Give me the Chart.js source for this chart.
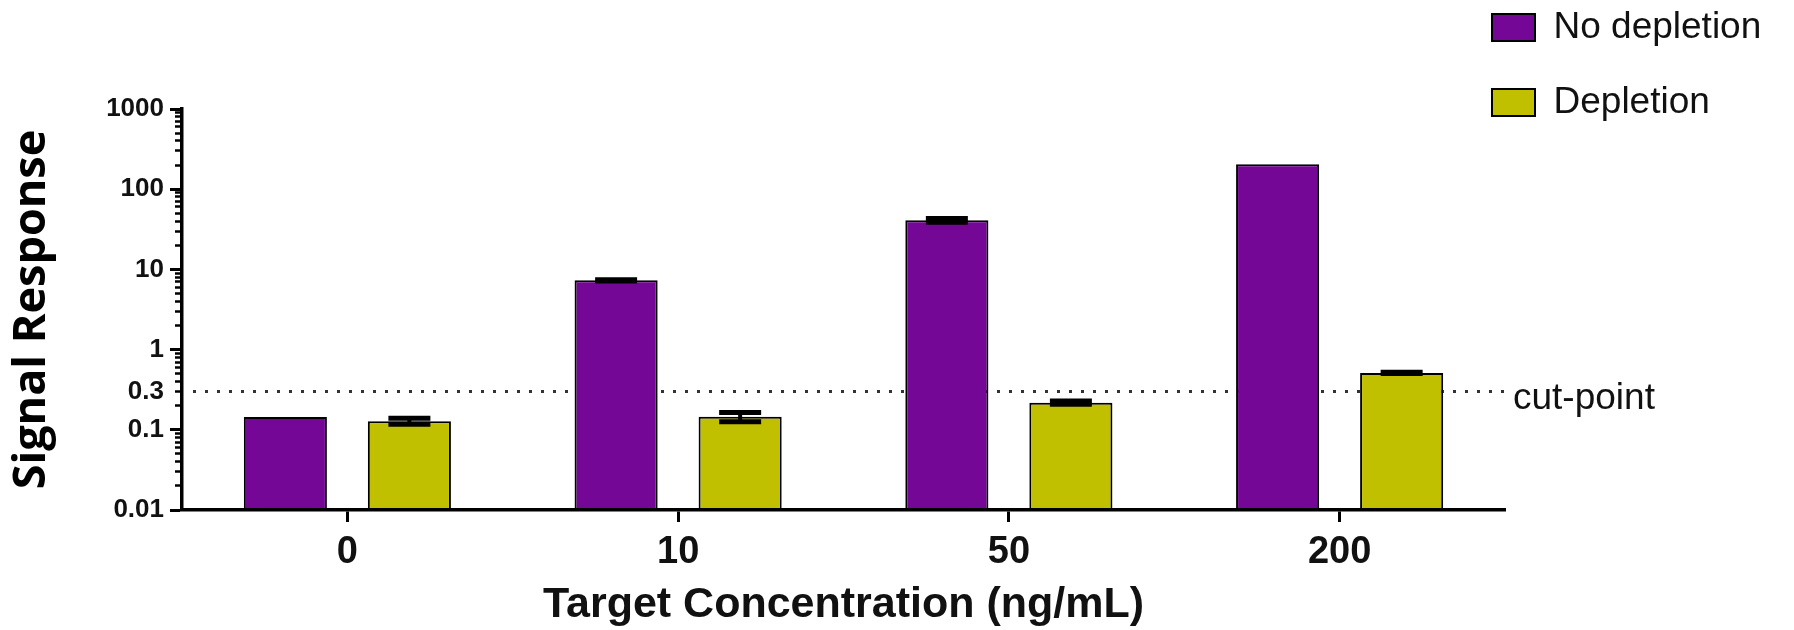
<!DOCTYPE html>
<html>
<head>
<meta charset="utf-8">
<title>Signal Response</title>
<script src="https://cdn.jsdelivr.net/npm/chart.js@4.4.1/dist/chart.umd.min.js"></script>
<style>
    html, body { margin: 0; padding: 0; background: #fff; }
    #chart { display: block; }
</style>
</head>
<body>
<canvas id="chart" width="1794" height="630"></canvas>
<script>
// Data
const concentrations = ['0', '10', '50', '200'];
const noDepletion = [0.144, 7.3, 41, 205];
const noDepletionErr = [0, 0.12, 2.2, 0];
const depletion = [0.128, 0.145, 0.218, 0.512];
const depletionErr = [0.011, 0.019, 0.01, 0.01];
const cutPoint = 0.3;
const yTickLabels = [0.01, 0.1, 0.3, 1, 10, 100, 1000];

const purple = '#740796';
const olive = '#c0c000';

// minor tick marks 2..9 in every decade
const minorTicks = [];
for (let e = -2; e < 3; e++) {
    for (let k = 2; k <= 9; k++) {
        minorTicks.push(+(k * Math.pow(10, e)).toPrecision(2));
    }
}

// error bars drawn on top of each bar
const errorBars = {
    id: 'errorBars',
    afterDatasetsDraw(chart) {
        const ctx = chart.ctx;
        const y = chart.scales.y;
        const errs = [noDepletionErr, depletionErr];
        chart.data.datasets.forEach((ds, d) => {
            const meta = chart.getDatasetMeta(d);
            meta.data.forEach((bar, i) => {
                const e = errs[d][i];
                if (!e) return;
                const v = ds.data[i];
                const hi = y.getPixelForValue(v + e);
                const lo = y.getPixelForValue(v - e);
                ctx.save();
                ctx.strokeStyle = '#000';
                ctx.lineWidth = 5;
                ctx.beginPath();
                ctx.moveTo(bar.x - 21, hi);
                ctx.lineTo(bar.x + 21, hi);
                ctx.moveTo(bar.x - 21, lo);
                ctx.lineTo(bar.x + 21, lo);
                ctx.stroke();
                ctx.lineWidth = 4;
                ctx.beginPath();
                ctx.moveTo(bar.x, hi);
                ctx.lineTo(bar.x, lo);
                ctx.stroke();
                ctx.restore();
            });
        });
    }
};

// dotted cut-point line and its label
const cutLine = {
    id: 'cutLine',
    beforeDatasetsDraw(chart) {
        const ctx = chart.ctx;
        const area = chart.chartArea;
        const yPix = chart.scales.y.getPixelForValue(cutPoint);
        ctx.save();
        ctx.strokeStyle = '#333';
        ctx.lineWidth = 3;
        ctx.setLineDash([3, 9]);
        ctx.beginPath();
        ctx.moveTo(area.left + 11, yPix);
        ctx.lineTo(area.right, yPix);
        ctx.stroke();
        ctx.restore();
    },
    afterDraw(chart) {
        const ctx = chart.ctx;
        const area = chart.chartArea;
        const yPix = chart.scales.y.getPixelForValue(cutPoint);
        ctx.save();
        ctx.fillStyle = '#111';
        ctx.font = '37px "Liberation Sans", Arial, sans-serif';
        ctx.textBaseline = 'alphabetic';
        ctx.fillText('cut-point', area.right + 8, yPix + 17);
        ctx.restore();
    }
};

// legend in the top right corner, minor ticks against the axis line
const layoutFix = {
    id: 'layoutFix',
    afterLayout(chart) {
        const lg = chart.legend;
        lg.left = 1454;
        lg.top = -29;
        lg.right = 1794;
        lg.bottom = 200;
        lg.width = lg.right - lg.left;
        lg.height = lg.bottom - lg.top;

        const m = chart.scales.yMinor;
        m.left = chart.chartArea.left;
        m.right = chart.chartArea.left;
        m.width = 0;
    }
};

const ctx = document.getElementById('chart').getContext('2d');
const chart = new Chart(ctx, {
    type: 'bar',
    data: {
        labels: concentrations,
        datasets: [{
            label: 'No depletion',
            data: noDepletion,
            backgroundColor: purple,
            borderColor: '#000',
            borderWidth: 2,
            borderSkipped: false
        }, {
            label: 'Depletion',
            data: depletion,
            backgroundColor: olive,
            borderColor: '#000',
            borderWidth: 2,
            borderSkipped: false
        }]
    },
    options: {
        responsive: false,
        animation: false,
        devicePixelRatio: 1,
        categoryPercentage: 0.75,
        barPercentage: 0.67,
        layout: {
            padding: { top: 109, right: 289, bottom: 0, left: 0 }
        },
        plugins: {
            tooltip: { enabled: false },
            legend: {
                position: 'chartArea',
                align: 'start',
                labels: {
                    boxWidth: 43,
                    boxHeight: 27,
                    padding: 38,
                    color: '#111',
                    font: { family: '"Liberation Sans", Arial, sans-serif', size: 37 }
                }
            }
        },
        scales: {
            x: {
                type: 'category',
                afterFit: s => { s.height = 120; },
                border: { display: true, color: '#000', width: 3.5 },
                grid: {
                    offset: false,
                    drawOnChartArea: false,
                    drawTicks: true,
                    tickLength: 12,
                    tickWidth: 3,
                    tickColor: '#000'
                },
                ticks: {
                    color: '#111',
                    padding: 8,
                    maxRotation: 0,
                    font: { family: '"Liberation Sans", Arial, sans-serif', size: 38, weight: 'bold' }
                },
                title: {
                    display: true,
                    text: 'Target Concentration (ng/mL)',
                    color: '#111',
                    padding: { top: 0, bottom: 3 },
                    font: { family: '"Liberation Sans", Arial, sans-serif', size: 43, weight: 'bold', lineHeight: 1 }
                }
            },
            y: {
                type: 'logarithmic',
                position: 'left',
                weight: 1,
                min: 0.01,
                max: 1000,
                afterFit: s => { s.width = 182; },
                afterBuildTicks: s => { s.ticks = yTickLabels.map(v => ({ value: v })); },
                border: { display: true, color: '#000', width: 3.5 },
                grid: {
                    drawOnChartArea: false,
                    drawTicks: true,
                    tickLength: 12,
                    tickWidth: 3,
                    tickColor: c => (c.tick && c.tick.value === cutPoint) ? 'rgba(0,0,0,0)' : '#000'
                },
                ticks: {
                    autoSkip: false,
                    color: '#111',
                    padding: 6,
                    font: { family: '"Liberation Sans", Arial, sans-serif', size: 26, weight: 'bold' },
                    callback: v => String(v)
                },
                title: {
                    display: true,
                    text: 'Signal Response',
                    color: '#000',
                    padding: { top: 10, bottom: 0 },
                    font: { family: '"Open Sans", sans-serif', size: 45, weight: 'bold', lineHeight: 1 }
                }
            },
            yMinor: {
                type: 'logarithmic',
                position: 'left',
                weight: 0,
                min: 0.01,
                max: 1000,
                afterFit: s => { s.width = 0; },
                afterBuildTicks: s => { s.ticks = minorTicks.map(v => ({ value: v })); },
                border: { display: false },
                grid: {
                    drawOnChartArea: false,
                    drawTicks: true,
                    tickLength: 7,
                    tickWidth: 2.5,
                    tickColor: '#000'
                },
                ticks: { display: false }
            }
        }
    },
    plugins: [layoutFix, cutLine, errorBars]
});
</script>
</body>
</html>
